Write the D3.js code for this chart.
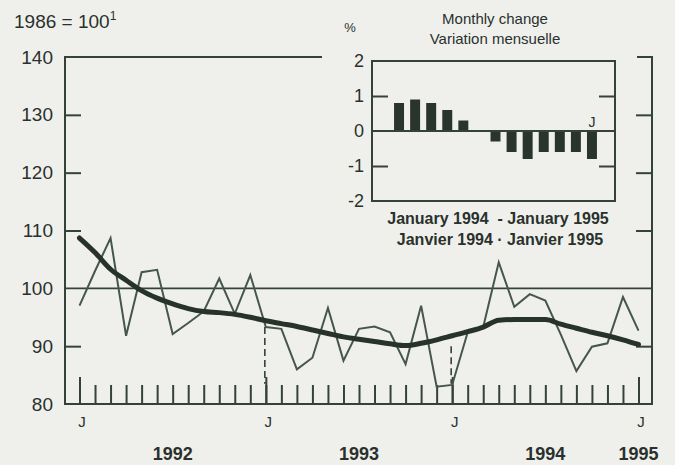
<!DOCTYPE html>
<html>
<head>
<meta charset="utf-8">
<script src="https://cdn.jsdelivr.net/npm/d3@7"></script>
<style>
  body { margin: 0; background: #eff0ec; }
  svg { display: block; font-family: "Liberation Sans", Arial, sans-serif; }
</style>
</head>
<body>
<div id="chart"></div>
<script>
// index 1986 = 100, monthly from Jan 1992 (0) to Jan 1995 (36)
var monthly = [97, 103, 108.7, 91.8, 102.8, 103.2, 92.1, 94, 96, 101.7, 95.6, 102.3,
  93.3, 93.0, 86.0, 88, 96.6, 87.5, 93, 93.4, 92.4, 86.9, 97, 83,
  83.3, 92.4, 93.3, 104.5, 96.8, 99, 97.9, 92, 85.7, 89.9, 90.5, 98.5, 92.7];
var trend = [108.7, 106.2, 103.3, 101.4, 99.6, 98.3, 97.3, 96.5, 96.0, 95.8, 95.5, 95.0,
  94.4, 93.9, 93.4, 92.8, 92.2, 91.6, 91.2, 90.8, 90.4, 90.1, 90.5, 91.1,
  91.8, 92.5, 93.3, 94.5, 94.6, 94.6, 94.6, 93.8, 93.1, 92.4, 91.8, 91.1, 90.3];
var yTicks = [80, 90, 100, 110, 120, 130, 140];
var janMonths = [0, 12, 24, 36];
var years = ["1992", "1993", "1994", "1995"];
var yearMonths = [6, 18, 30, 36];
var dashMonths = [12, 24];
var dashTops = [93.3, 90];

// inset: monthly change, Jan 1994 - Jan 1995
var insetMonths = ["J", "F", "M", "A", "M", "J", "J", "A", "S", "O", "N", "D", "J"];
var insetChange = [0.8, 0.9, 0.8, 0.6, 0.3, 0, -0.3, -0.6, -0.8, -0.6, -0.6, -0.6, -0.8];
var insetTicks = [2, 1, 0, -1, -2];

var width = 675, height = 465;
var ink = "#34423a", txt = "#2a312c";

var svg = d3.select("#chart").append("svg")
  .attr("width", width).attr("height", height);

var x = d3.scaleLinear().domain([0, 36]).range([79.5, 638.5]);
var y = d3.scaleLinear().domain([80, 140]).range([404, 57]);
var left = 65, right = 652;

// frame
svg.append("path")
  .attr("d", "M322," + y(140) + "H" + left + "V" + y(80) + "H" + right + "V" + y(140) + "H637")
  .attr("fill", "none").attr("stroke", ink).attr("stroke-width", 2);

// 100 line
svg.append("line")
  .attr("x1", left).attr("x2", right).attr("y1", y(100)).attr("y2", y(100))
  .attr("stroke", ink).attr("stroke-width", 1.6);

// y ticks, left and right
var inner = [90, 110, 120, 130];
svg.append("g").attr("transform", "translate(" + left + ",0)")
  .call(d3.axisLeft(y).tickValues(inner).tickSize(-16).tickFormat(""))
  .call(function(g) { g.select(".domain").remove(); })
  .selectAll("line").attr("stroke", ink).attr("stroke-width", 2);
svg.append("g").attr("transform", "translate(" + right + ",0)")
  .call(d3.axisRight(y).tickValues(inner).tickSize(-16).tickFormat(""))
  .call(function(g) { g.select(".domain").remove(); })
  .selectAll("line").attr("stroke", ink).attr("stroke-width", 2);

// y labels
svg.append("g").attr("transform", "translate(" + left + ",0)")
  .call(d3.axisLeft(y).tickValues(yTicks).tickSize(0).tickPadding(12))
  .call(function(g) { g.select(".domain").remove(); })
  .selectAll("text").attr("font-size", 19).attr("fill", txt)
  .attr("font-family", "Liberation Sans, Arial, sans-serif");

// month ticks
svg.append("g").attr("transform", "translate(0," + y(80) + ")")
  .call(d3.axisBottom(x).tickValues(d3.range(0, 37)).tickSize(-19).tickFormat(""))
  .call(function(g) { g.select(".domain").remove(); })
  .selectAll("line").attr("stroke", ink).attr("stroke-width", 2);
svg.append("g").attr("transform", "translate(0," + y(80) + ")")
  .call(d3.axisBottom(x).tickValues(janMonths).tickSize(-27).tickFormat(""))
  .call(function(g) { g.select(".domain").remove(); })
  .selectAll("line").attr("stroke", ink).attr("stroke-width", 2);

// J labels
svg.append("g").attr("transform", "translate(2," + y(80) + ")")
  .call(d3.axisBottom(x).tickValues(janMonths).tickSize(0).tickPadding(12).tickFormat(function() { return "J"; }))
  .call(function(g) { g.select(".domain").remove(); })
  .selectAll("text").attr("font-size", 15).attr("fill", txt)
  .attr("font-family", "Liberation Sans, Arial, sans-serif");

// year labels
svg.selectAll(".year").data(years).enter().append("text")
  .attr("x", function(d, i) { return x(yearMonths[i]); })
  .attr("y", 460)
  .attr("text-anchor", "middle").attr("font-size", 18).attr("font-weight", "bold")
  .attr("fill", txt).text(function(d) { return d; });

// dashed markers
svg.selectAll(".dash").data(dashMonths).enter().append("line")
  .attr("x1", function(d) { return x(d) - 1; }).attr("x2", function(d) { return x(d) - 1; })
  .attr("y1", function(d, i) { return y(dashTops[i]); }).attr("y2", y(83.5))
  .attr("stroke", ink).attr("stroke-width", 1.6).attr("stroke-dasharray", "7,4");

// monthly series
var line = d3.line().x(function(d, i) { return x(i); }).y(function(d) { return y(d); });
svg.append("path").datum(monthly).attr("d", line)
  .attr("fill", "none").attr("stroke", "#46564c").attr("stroke-width", 2)
  .attr("stroke-linejoin", "miter");

// trend
var smooth = d3.line().curve(d3.curveMonotoneX)
  .x(function(d, i) { return x(i); }).y(function(d) { return y(d); });
svg.append("path").datum(trend).attr("d", smooth)
  .attr("fill", "none").attr("stroke", "#26322b").attr("stroke-width", 5)
  .attr("stroke-linecap", "round");

// title
var t = svg.append("text").attr("x", 14).attr("y", 28).attr("font-size", 19).attr("fill", txt);
t.append("tspan").text("1986 = 100");
t.append("tspan").attr("font-size", 12).attr("dy", -8).text("1");

// inset
var ix = d3.scaleBand().domain(d3.range(13)).range([391, 600]).paddingInner(0.38).paddingOuter(0.19);
var iy = d3.scaleLinear().domain([-2, 2]).range([201, 61]);
var ins = svg.append("g");
ins.append("rect").attr("x", 372).attr("y", iy(2)).attr("width", 615 - 372).attr("height", iy(-2) - iy(2))
  .attr("fill", "none").attr("stroke", ink).attr("stroke-width", 2);
ins.append("g").attr("transform", "translate(372,0)")
  .call(d3.axisLeft(iy).tickValues([1, -1]).tickSize(-16).tickFormat(""))
  .call(function(g) { g.select(".domain").remove(); })
  .selectAll("line").attr("stroke", ink).attr("stroke-width", 2);
ins.append("g").attr("transform", "translate(615,0)")
  .call(d3.axisRight(iy).tickValues([1, -1]).tickSize(-16).tickFormat(""))
  .call(function(g) { g.select(".domain").remove(); })
  .selectAll("line").attr("stroke", ink).attr("stroke-width", 2);
ins.append("g").attr("transform", "translate(372,0)")
  .call(d3.axisLeft(iy).tickValues(insetTicks).tickSize(0).tickPadding(8).tickFormat(function(d) { return String(d); }))
  .call(function(g) { g.select(".domain").remove(); })
  .selectAll("text").attr("font-size", 18).attr("fill", txt)
  .attr("font-family", "Liberation Sans, Arial, sans-serif");
ins.selectAll(".bar").data(insetChange).enter().append("rect")
  .attr("x", function(d, i) { return ix(i); })
  .attr("width", ix.bandwidth())
  .attr("y", function(d) { return iy(Math.max(0, d)); })
  .attr("height", function(d) { return Math.abs(iy(d) - iy(0)); })
  .attr("fill", "#2a342e");
ins.append("line").attr("x1", 372).attr("x2", 615).attr("y1", iy(0)).attr("y2", iy(0))
  .attr("stroke", ink).attr("stroke-width", 2);
ins.append("text").attr("x", ix(12) + ix.bandwidth() / 2).attr("y", iy(0) - 4)
  .attr("text-anchor", "middle").attr("font-size", 14).attr("fill", txt).text(insetMonths[12]);

ins.append("text").attr("x", 350).attr("y", 32).attr("text-anchor", "middle")
  .attr("font-size", 13).attr("fill", txt).text("%");
ins.append("text").attr("x", 495).attr("y", 24).attr("text-anchor", "middle")
  .attr("font-size", 15).attr("fill", txt).text("Monthly change");
ins.append("text").attr("x", 495).attr("y", 44).attr("text-anchor", "middle")
  .attr("font-size", 15).attr("fill", txt).text("Variation mensuelle");
ins.append("text").attr("x", 498).attr("y", 224).attr("text-anchor", "middle")
  .attr("font-size", 16).attr("font-weight", "bold").attr("fill", txt)
  .attr("xml:space", "preserve").text("January 1994  - January 1995");
ins.append("text").attr("x", 500).attr("y", 245).attr("text-anchor", "middle")
  .attr("font-size", 16).attr("font-weight", "bold").attr("fill", txt)
  .text("Janvier 1994 \u00b7 Janvier 1995");
</script>
</body>
</html>
